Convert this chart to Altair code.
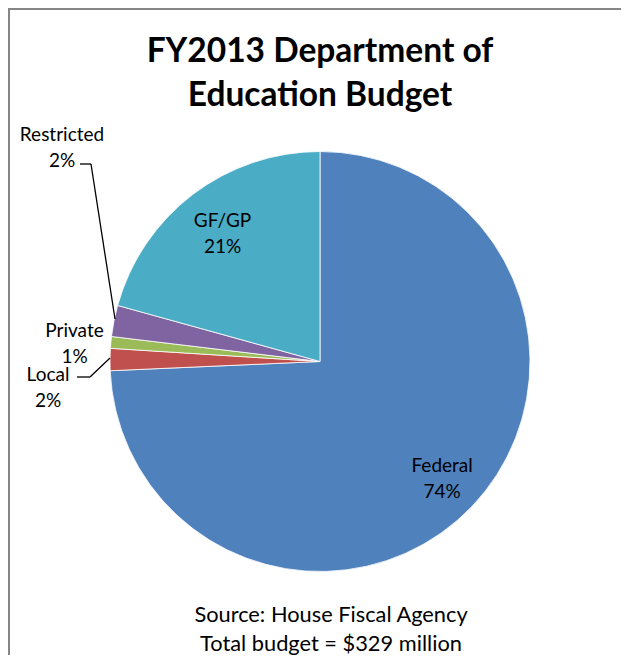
import altair as alt
import pandas as pd

# ---- data ----
sources = ["Federal", "Local", "Private", "Restricted", "GF/GP"]
shares = [74.3, 1.7, 0.9, 2.4, 20.7]
colors = ["#4F81BD", "#C0504D", "#9BBB59", "#8064A2", "#4BACC6"]
title_lines = ["FY2013 Department of", "Education Budget"]
note_lines = ["Source: House Fiscal Agency", "Total budget = $329 million"]

TOTAL = float(sum(shares))
df = pd.DataFrame({"source": sources, "share": shares, "order": list(range(len(sources)))})
one = pd.DataFrame({"k": [0]})

W, H = 613, 647
CX, CY, R = 312, 353.5, 210
FONT = "Lato"
LFS = 19

base = alt.Chart(df).transform_calculate(
    label="datum.source + '|' + format(datum.share, '.0f') + '%'"
)
theta_scale = alt.Scale(domain=[0, TOTAL])

pie = base.mark_arc(radius=R, stroke="white", strokeWidth=0.8).encode(
    theta=alt.Theta("share:Q", stack=True, scale=theta_scale),
    order=alt.Order("order:Q"),
    color=alt.Color("source:N", scale=alt.Scale(domain=sources, range=colors), legend=None),
    x=alt.value(CX),
    y=alt.value(CY),
)

cum = base.transform_window(
    cum="sum(share)", sort=[alt.SortField("order")], frame=[None, 0]
).transform_calculate(mid="datum.cum - datum.share / 2")


def inside(name, r):
    return cum.transform_filter(alt.datum.source == name).mark_text(
        radius=r, font=FONT, fontSize=LFS, lineBreak="|", lineHeight=26,
        baseline="middle", align="center", color="black", dy=-12,
    ).encode(
        theta=alt.Theta("mid:Q", stack=False, scale=theta_scale),
        text="label:N",
        x=alt.value(CX),
        y=alt.value(CY),
    )


def outside(name, x, y):
    return base.transform_filter(alt.datum.source == name).mark_text(
        font=FONT, fontSize=LFS, lineBreak="|", lineHeight=26,
        baseline="alphabetic", align="center", color="black",
    ).encode(text="label:N", x=alt.value(x), y=alt.value(y))


def seg(x1, y1, x2, y2, color="black", w=1.3):
    return alt.Chart(one).mark_rule(color=color, strokeWidth=w).encode(
        x=alt.value(x1), y=alt.value(y1), x2=alt.value(x2), y2=alt.value(y2)
    )


title = alt.Chart(one).mark_text(
    text=title_lines, font=FONT, fontSize=33.5, fontWeight="bold", lineHeight=44,
    baseline="alphabetic", align="center", color="black",
).encode(x=alt.value(312), y=alt.value(54.3))

note = alt.Chart(one).mark_text(
    text=note_lines, font=FONT, fontSize=21.8, lineHeight=28.5,
    baseline="alphabetic", align="center", color="black",
).encode(x=alt.value(323), y=alt.value(614))

chart = alt.layer(
    seg(1, 0, 1, H, color="#868686", w=2),
    seg(0, 1, W, 1, color="#868686", w=2),
    pie,
    inside("GF/GP", 161),
    inside("Federal", 169),
    outside("Restricted", 54, 132.7),
    outside("Private", 66.5, 328.7),
    outside("Local", 40, 372.7),
    seg(72, 156, 83, 156),
    seg(83, 156, 107, 311),
    seg(69, 369, 82, 369),
    seg(82, 369, 102, 350),
    title,
    note,
).resolve_scale(theta="shared").properties(
    width=W, height=H, autosize="none", padding=0
).configure_view(stroke=None)

chart.save("out.html", embed_options={"renderer": "svg", "actions": False})
